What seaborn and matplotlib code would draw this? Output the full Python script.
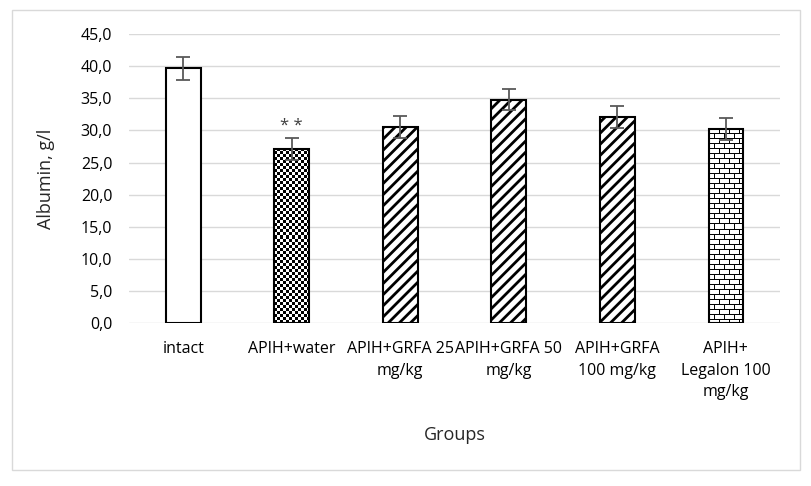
# Albumin by group - bar chart with error bars
import numpy as np
import pandas as pd
import matplotlib
matplotlib.use("Agg")
import matplotlib.pyplot as plt
from matplotlib.ticker import FuncFormatter, MultipleLocator
from matplotlib.patches import Rectangle
import seaborn as sns

# Data
groups = ["intact", "APIH+water", "APIH+GRFA 25\nmg/kg", "APIH+GRFA 50\nmg/kg",
          "APIH+GRFA\n100 mg/kg", "APIH+\nLegalon 100\nmg/kg"]
albumin = [39.7, 27.1, 30.5, 34.8, 32.1, 30.2]
sem = [1.8, 1.7, 1.7, 1.7, 1.7, 1.7]
marks = ["", "* *", "", "", "", ""]
fills = ["plain", "checker", "stripe", "stripe", "stripe", "brick"]

df = pd.DataFrame({"group": groups, "albumin": albumin})

sns.set_style("white")
plt.rcParams["font.family"] = ["Open Sans", "DejaVu Sans"]
plt.rcParams["hatch.linewidth"] = 2.0

fig = plt.figure(figsize=(8.11, 4.86), dpi=100)
ax = fig.add_axes([0.159, 0.335, 0.803, 0.595])

# outer chart border
fig.patches.append(Rectangle((0.015, 0.033), 0.972, 0.947, transform=fig.transFigure,
                             fill=False, edgecolor="#d9d9d9", linewidth=1))

sns.barplot(data=df, x="group", y="albumin", color="white", edgecolor="black",
            linewidth=1.5, width=0.32, ax=ax, zorder=3)

ax.set_ylim(0, 45)
ax.set_xlim(-0.5, len(groups) - 0.5)


def pattern(kind, w, h):
    # pixel pattern, 1 = black, 0 = white
    yy, xx = np.indices((h, w))
    if kind == "checker":
        return ((xx // 3 + yy // 3) % 2).astype(float)
    if kind == "brick":
        row = yy // 5
        horiz = (yy % 5 == 0)
        vert = ((xx + (row % 2) * 5) % 10 == 0)
        return (horiz | vert).astype(float)
    return np.zeros((h, w))


for patch, kind in zip(ax.patches, fills):
    if kind == "stripe":
        patch.set_hatch("///")
        continue
    if kind == "plain":
        continue
    x0, y0 = patch.get_x(), patch.get_y()
    x1, y1 = x0 + patch.get_width(), y0 + patch.get_height()
    (px0, py0), (px1, py1) = ax.transData.transform([(x0, y0), (x1, y1)])
    img = pattern(kind, int(round(px1 - px0)), int(round(py1 - py0)))
    im = ax.imshow(img, cmap="gray_r", vmin=0, vmax=1, extent=(x0, x1, y0, y1),
                   origin="upper", interpolation="nearest", aspect="auto", zorder=2.9)
    im.set_clip_path(patch)
    patch.set_facecolor("none")

ax.set_xlim(-0.5, len(groups) - 0.5)
ax.set_ylim(0, 45)

x = np.arange(len(groups))
ax.errorbar(x, albumin, yerr=sem, fmt="none", ecolor="#595959", elinewidth=1.3,
            capsize=5, capthick=1.3, zorder=4)
for xi, v, e, m in zip(x, albumin, sem, marks):
    if m:
        ax.text(xi, v + e + 0.6, m, ha="center", va="bottom", fontsize=12, color="#404040")

ax.yaxis.set_major_locator(MultipleLocator(5))
ax.yaxis.set_major_formatter(FuncFormatter(lambda v, p: f"{v:.1f}".replace(".", ",")))
ax.grid(axis="y", color="#d9d9d9", linewidth=1, zorder=0)
ax.set_axisbelow(True)
for s in ax.spines.values():
    s.set_visible(False)
ax.tick_params(axis="both", length=0, labelsize=11.5, colors="#000000")
ax.tick_params(axis="y", pad=12)
ax.tick_params(axis="x", pad=13)
for lbl in ax.get_xticklabels():
    lbl.set_linespacing(1.45)

ax.set_ylabel("Albumin, g/l", fontsize=13)
ax.set_xlabel("Groups", fontsize=13)
ax.yaxis.set_label_coords(-0.128, 0.5)
ax.xaxis.set_label_coords(0.5, -0.388)
ax.yaxis.label.set_va("center")
ax.xaxis.label.set_va("center")

fig.savefig("out.png", dpi=100)
